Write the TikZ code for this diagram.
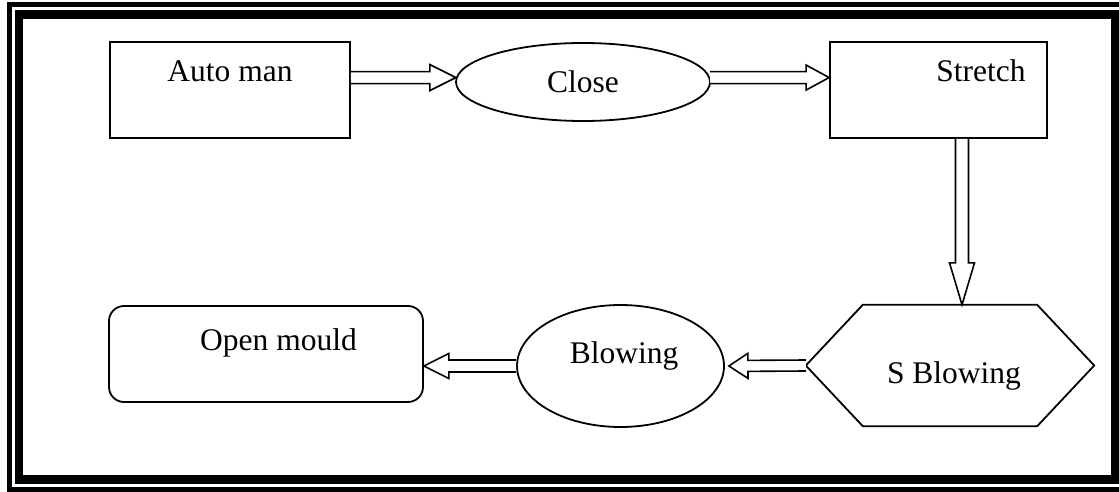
\documentclass[tikz,border=0pt]{standalone}
\usepackage{fontspec}
\setmainfont{Liberation Serif}
\usetikzlibrary{calc,shapes.geometric}
\tikzset{
  shapebox/.style={draw=black, line width=1.8pt, inner sep=0pt, fill=white},
  hexframe/.style={draw=none, inner sep=0pt, rectangle},
  hexline/.style={draw=black, line width=1.8pt, line join=miter},
  txt/.style={font=\fontsize{31.5}{36}\selectfont, inner sep=0pt, anchor=base},
  harrow/.style={draw=black, line width=1.6pt, fill=white, line join=miter},
}
% #1 start, #2 tip, #3 head length, #4 shaft half width, #5 head half width
\newcommand\hollowarrow[5]{%
  \draw[harrow] ($(#1)!#4!90:(#2)$) -- ($($(#2)!#3!(#1)$)!#4!90:(#2)$)
    -- ($($(#2)!#3!(#1)$)!#5!90:(#2)$) -- (#2)
    -- ($($(#2)!#3!(#1)$)!#5!-90:(#2)$) -- ($($(#2)!#3!(#1)$)!#4!-90:(#2)$)
    -- ($(#1)!#4!-90:(#2)$);}
\begin{document}
\begin{tikzpicture}[x=1pt,y=-1pt]
\useasboundingbox (0,0) rectangle (1119,492);
\begin{scope}
  \clip (0,0) rectangle (1119,492);
  \draw[line width=5pt, line join=miter] (9,4.5) rectangle (1135,489);
  \draw[line width=8.5pt, line join=miter] (19,14.5) rectangle (1115,479.5);
\end{scope}

% shapes
\node[shapebox, rectangle, minimum width=240pt, minimum height=96pt] (auto) at (230,90) {};
\node[shapebox, ellipse, minimum width=254pt, minimum height=78pt] (close) at (583,82) {};
\node[shapebox, rectangle, minimum width=217pt, minimum height=96pt] (stretch) at (938.5,90) {};
\node[hexframe, minimum width=288pt, minimum height=121pt] (sb) at (950,365.5) {};
\draw[hexline] (sb.west) -- ($(sb.north west)+(57,0)$) -- ($(sb.north east)+(-57,0)$)
  -- (sb.east) -- ($(sb.south east)+(-57,0)$) -- ($(sb.south west)+(57,0)$) -- cycle;
\node[shapebox, ellipse, minimum width=207pt, minimum height=122pt] (blow) at (620.5,366) {};
\node[shapebox, rectangle, rounded corners=15pt, minimum width=314pt, minimum height=96pt] (open) at (266,354) {};

% texts
\node[txt] (tauto) at ($(auto.center)+(0,-8)$) {Auto man};
\node[txt] (tclose) at ($(close.center)+(0,11)$) {Close};
\node[txt] (tstretch) at ($(stretch.center)+(42.5,-8)$) {Stretch};
\node[txt] (tsb) at ($(sb.center)+(4,17.5)$) {S Blowing};
\node[txt] (tblow) at ($(blow.center)+(3.5,-3)$) {Blowing};
\node[txt] (topen) at ($(open.center)+(12.5,-4)$) {Open mould};

% connectors
\coordinate (a1s) at (auto.east |- close.178);
\hollowarrow{a1s}{close.178}{26pt}{6pt}{13pt}
\coordinate (a2e) at (stretch.west |- close.2);
\hollowarrow{close.2}{a2e}{23pt}{6pt}{12.5pt}
\coordinate (a3s) at ($(stretch.south)+(23.5,0)$);
\coordinate (a3e) at (a3s |- sb.north);
\hollowarrow{a3s}{a3e}{42pt}{6.5pt}{12.5pt}
\coordinate (a4e) at ($(blow.east)+(4,0)$);
\hollowarrow{sb.west}{a4e}{19pt}{5.5pt}{12.5pt}
\coordinate (a5e) at (open.east |- blow.west);
\hollowarrow{blow.west}{a5e}{25pt}{6pt}{12.5pt}
\end{tikzpicture}
\end{document}
